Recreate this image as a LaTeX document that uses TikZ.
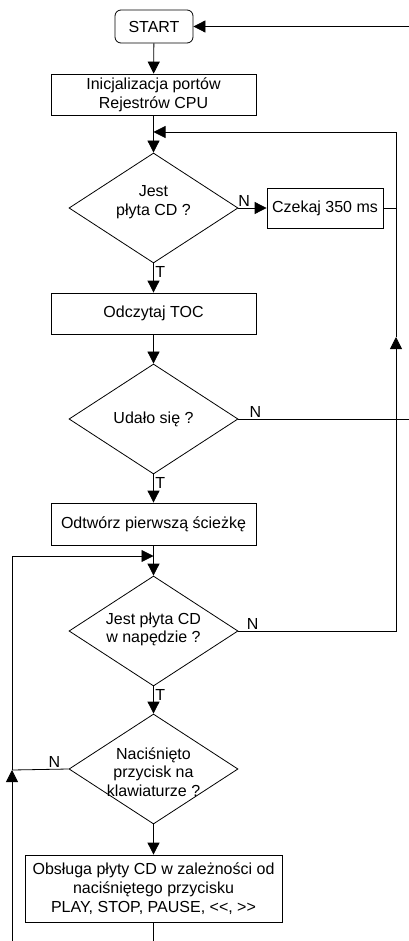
\documentclass[tikz,border=0pt]{standalone}
\usepackage{fontspec}
\setmainfont{Liberation Sans}
\usetikzlibrary{shapes.geometric,arrows.meta}
\begin{document}
\begin{tikzpicture}[x=1pt,y=-1pt,
  every node/.style={font=\fontsize{16}{18.7}\selectfont},
  line/.style={draw=black,line width=0.8pt},
  arr/.style={line,-{Triangle[length=12pt,width=12pt]}},
  procbox/.style={line,rectangle,inner sep=0pt,align=center},
  decbox/.style={line,diamond,inner sep=0pt,minimum width=169pt,minimum height=110pt},
  lab/.style={inner sep=1.5pt},
  txt/.style={align=center,inner sep=0pt}]
\useasboundingbox (0,0) rectangle (409,941);
\fill[white] (0,0) rectangle (409,941);

\node[procbox,rounded corners=6pt,minimum width=78pt,minimum height=33pt] (start) at (154,26.5) {START};
\node[procbox,minimum width=205pt,minimum height=41pt] (init) at (153.5,94.5) {Inicjalizacja portów\\Rejestrów CPU};
\node[decbox] (d1) at (153.5,208) {};
\node[txt] (t1) at (153.5,202) {Jest\\płyta CD ?};
\node[procbox,minimum width=116pt,minimum height=40pt] (wait) at (325,208) {Czekaj 350 ms};
\node[procbox,minimum width=205pt,minimum height=41pt] (toc) at (153.5,313.5) {Odczytaj TOC};
\node[decbox] (d2) at (153.5,419) {};
\node[txt] (t2) at (153.5,419) {Udało się ?};
\node[procbox,minimum width=205pt,minimum height=42pt] (play) at (153.5,524) {Odtwórz pierwszą ścieżkę};
\node[decbox] (d3) at (153.5,631) {};
\node[txt] (t3) at (153.5,629.5) {Jest płyta CD\\w napędzie ?};
\node[decbox] (d4) at (153.5,769) {};
\node[txt] (t4) at (153.5,772) {Naciśnięto\\przycisk na\\klawiaturze ?};
\node[procbox,minimum width=257pt,minimum height=67pt] (obs) at (153.5,888.5) {Obsługa płyty CD w zależności od\\naciśniętego przycisku\\PLAY, STOP, PAUSE, <\kern0pt<, >\kern0pt>};

\coordinate (j1) at (153.5,132);
\coordinate (j2) at (153.5,556);
\coordinate (r1) at (396,132);
\coordinate (r2) at (396,337);
\coordinate (e1) at (409,26.5);
\coordinate (e2) at (409,419);
\coordinate (l1) at (12,556);
\coordinate (l2) at (12,770);
\coordinate (l3) at (12,941);
\coordinate (b1) at (153.5,941);

% main flow
\draw[arr] (start) -- (init);
\draw[arr] (init) -- (d1);
\draw[arr] (d1) -- node[lab,right,pos=0.3] (tT1) {T} (toc);
\draw[arr] (d1.east) -- node[lab,above,pos=0.2] (nN1) {N} (wait.west);
\draw[line] (wait.east) -- (wait.east -| r1);
\draw[arr] (toc) -- (d2);
\draw[arr] (d2) -- node[lab,right,pos=0.3] (tT2) {T} (play);
\draw[line] (d2.east) -- node[lab,above,pos=0.1] (nN2) {N} (e2);
\draw[arr] (play) -- (d3);
\draw[arr] (d3) -- node[lab,right,pos=0.3] (tT3) {T} (d4);
\draw[arr] (d4) -- (obs);
\draw[line] (obs) -- (b1);

% right loop
\draw[arr] (d3.east) -- node[lab,above,pos=0.09] (nN3) {N} (d3.east -| r2) -- (r2);
\draw[arr] (r2) -- (r1) -- (j1);
\draw[arr] (e1) -- (start);

% left loop
\draw[line] (d4.west) -- node[lab,above,pos=0.25] (nN4) {N} (l2);
\draw[arr] (l3) -- (l2);
\draw[arr] (l2) -- (l1) -- (j2);
\end{tikzpicture}
\end{document}
